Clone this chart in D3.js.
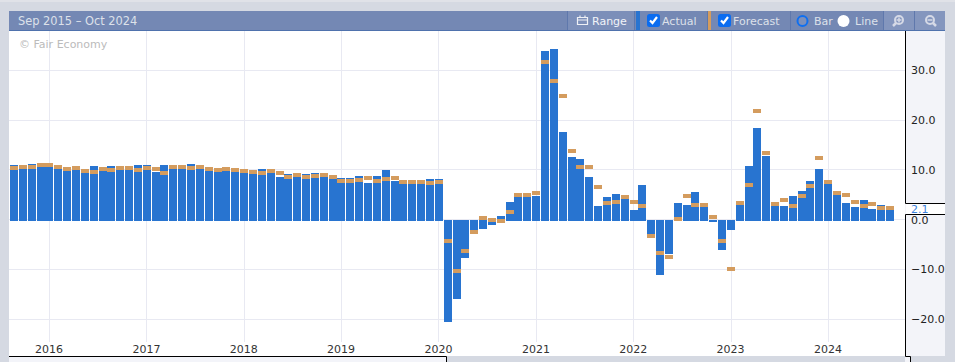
<!DOCTYPE html>
<html><head><meta charset="utf-8">
<style>
html,body{margin:0;padding:0;background:#d5d9e2;overflow:hidden}
svg{display:block}
text{font-family:"DejaVu Sans",sans-serif}
.axis path,.axis line{display:none}
</style>
<script src="https://cdn.jsdelivr.net/npm/d3@7"></script>
</head><body>
<script>
const yearLabels = [2016,2017,2018,2019,2020,2021,2022,2023,2024];
const yTicks = [30,20,10,0,-10,-20];
const actual = [11.0,10.6,11.2,11.0,11.0,10.6,10.2,10.4,9.8,10.8,10.2,10.8,10.4,10.4,11.0,11.0,9.6,11.0,10.6,10.6,11.2,10.6,10.2,10.0,10.2,
 10.0,9.8,9.6,10.2,9.8,8.6,9.2,9.0,9.2,9.4,9.0,8.6,8.4,8.4,8.8,7.4,8.8,10.0,7.8,7.4,7.4,7.4,8.2,8.2,
 -20.6,-16.0,-7.6,-2.4,-1.9,-1.1,0.7,3.5,4.6,4.6,4.7,33.8,34.2,17.7,12.5,12.1,8.5,
 2.7,4.5,5.1,4.1,1.9,6.9,-3.0,-11.2,-6.8,3.3,2.9,5.5,2.5,-0.5,-6.0,-2.0,2.9,
 10.7,18.5,12.7,2.7,2.7,4.7,5.7,7.7,10.1,7.1,4.9,3.3,2.5,3.9,2.1,2.9,2.1];
const forecast = [10.4,10.6,10.6,11.0,11.0,10.6,10.2,10.4,9.8,9.6,10.2,10.0,10.4,10.4,10.0,10.4,10.2,9.4,10.6,10.6,10.4,10.6,10.2,10.0,10.2,
 10.0,9.8,9.6,9.4,9.8,9.4,8.6,9.0,8.6,8.8,9.0,8.6,7.8,7.8,8.0,8.4,7.8,8.2,8.4,7.6,7.6,7.6,7.4,7.6,
 -4.35,-10.4,-6.2,-2.5,0.3,-0.1,-0.3,1.5,4.9,4.9,5.3,31.6,27.8,24.8,13.7,10.5,10.5,
 6.5,3.3,3.5,4.5,3.5,2.7,-3.3,-6.6,-7.4,0.1,4.7,2.9,2.9,0.5,-4.2,-9.8,3.3,
 6.9,21.8,13.3,3.1,3.9,2.7,4.7,6.7,12.3,7.5,5.3,4.9,3.5,2.7,3.1,2.3,2.3];
const headerText = "Sep 2015 – Oct 2024";
const watermark = "© Fair Economy";
const latestLabel = "2.1";

const W=955,H=362;
const svg=d3.select("body").append("svg").attr("width",W).attr("height",H);
const rect=(x,y,w,h,f)=>svg.append("rect").attr("x",x).attr("y",y).attr("width",w).attr("height",h).attr("fill",f);

// page + panels
rect(0,0,W,H,"#d5d9e2");
rect(0,0,W,2,"#e0e2e8");
rect(9,30,896,326,"#ffffff");
rect(905,30,40,326,"#f3f4f9");
rect(9,356,437,6,"#f3f4f9");
rect(905,356,5,6,"#f3f4f9");

// scales
const x=d3.scaleLinear().domain([0,99]).range([10,886.15]);
const y=d3.scaleLinear().domain([30,-20]).range([70.3,319.3]);
const t=d3.scaleTime().domain([new Date(2016,0,1),new Date(2024,0,1)]).range([49.4,828.4]);
const yearDates=yearLabels.map(d=>new Date(d,0,1));

// grid
svg.append("g").selectAll("line").data(yTicks).join("line")
 .attr("x1",9).attr("x2",905).attr("y1",d=>Math.floor(y(d))+.5).attr("y2",d=>Math.floor(y(d))+.5)
 .attr("stroke","#e8e9f2");
svg.append("g").selectAll("line").data(yearDates).join("line")
 .attr("y1",30).attr("y2",342).attr("x1",d=>Math.floor(t(d))+.5).attr("x2",d=>Math.floor(t(d))+.5)
 .attr("stroke","#e8e9f2");

// watermark
svg.append("text").attr("x",19).attr("y",48).attr("font-size",11).attr("fill","#bbbbbb").text(watermark);

// bars
const barW=8;
svg.append("g").selectAll("rect").data(actual).join("rect")
 .attr("x",(d,i)=>Math.round(x(i))).attr("width",barW)
 .attr("y",d=>d>=0?Math.round(y(d)):220)
 .attr("height",d=>d>=0?221-Math.round(y(d)):Math.round(y(d))-220)
 .attr("fill","#2874d0");
svg.append("g").selectAll("rect").data(forecast).join("rect")
 .attr("x",(d,i)=>Math.round(x(i))).attr("width",barW)
 .attr("y",d=>Math.round(y(d)-2)).attr("height",4)
 .attr("fill","#d49c5e");

// x axis
const xAxis=d3.axisBottom(t).tickValues(yearDates).tickFormat(d3.timeFormat("%Y")).tickSize(0);
const xg=svg.append("g").attr("class","axis").attr("transform","translate(0,342)").call(xAxis);
xg.selectAll("text").attr("font-size",11).attr("fill","#333").attr("font-family",'"DejaVu Sans",sans-serif').attr("x",-1).attr("y",3).attr("dy","0.71em");

// y axis panel
svg.append("path").attr("fill","none").attr("stroke","#000")
 .attr("d","M905.5,30V203.5H945M945,214.5H905.5V356.5H910.5V362");
svg.append("path").attr("fill","none").attr("stroke","#000").attr("d","M9,356.5H446.5V362");
rect(906,204,39,10,"#ffffff");
const yAxis=d3.axisRight(y).tickValues(yTicks).tickFormat(d3.format(".1f")).tickSize(0).tickPadding(0);
const yg=svg.append("g").attr("class","axis").attr("transform","translate(911,0)").call(yAxis);
yg.selectAll("text").attr("font-size",11).attr("fill","#222").attr("font-family",'"DejaVu Sans",sans-serif').attr("x",0).attr("dy","0.3em");
svg.append("text").attr("x",911).attr("y",212.5).attr("font-size",11).attr("fill","#3d83dc").text(latestLabel);

// toolbar
rect(9,11,936,19,"#7488b4");
rect(9,30,936,1,"#4f72ad");
rect(567,11,68,19,"#7c8fb9");
rect(884,11,30,19,"#8496be");
rect(915,11,30,19,"#8496be");
[567,634,707,790,883,914].forEach(v=>rect(v,11,1,19,"#5f78ac"));
rect(636,11,4,19,"#2874d0");
rect(708,11,3,19,"#d49c5e");
const label=(s,xx,fs,c)=>svg.append("text").attr("x",xx).attr("y",25).attr("font-size",fs||11).attr("fill",c||"#dde1ea").text(s);
label(headerText,18,11.4);
label("Range",592,11,"#f2f4f8");
label("Actual",662);
label("Forecast",733);
label("Bar",814);
label("Line",855);
// calendar icon
svg.append("path").attr("fill","none").attr("stroke","#eef0f5").attr("stroke-width",1.2)
 .attr("d","M578,17.5H587.5V24.5H577.5V17.5ZM577.5,20H587.5M580,15.5V18M585,15.5V18");
// checkboxes
[647,718].forEach(cx=>{
 rect(cx,14,13,13,"#0a6cf0").attr("rx",2.5);
 svg.append("path").attr("fill","none").attr("stroke","#fff").attr("stroke-width",2.2)
  .attr("d",`M${cx+3},${20.5}L${cx+5.5},${23}L${cx+10},${17}`);
});
// radios
svg.append("circle").attr("cx",802.5).attr("cy",21).attr("r",5).attr("fill","#7d90ba").attr("stroke","#0f6ff0").attr("stroke-width",2);
svg.append("circle").attr("cx",843.5).attr("cy",21).attr("r",6).attr("fill","#fff");
// zoom icons
[[899,"M-2.5,0H2.5M0,-2.5V2.5"],[930,"M-2.5,0H2.5"]].forEach(([cx,d])=>{
 const g=svg.append("g").attr("transform",`translate(${cx},20)`);
 g.append("circle").attr("r",4).attr("fill","none").attr("stroke","#d5d9e6").attr("stroke-width",2);
 g.append("path").attr("d",d).attr("stroke","#d5d9e6").attr("stroke-width",1.5);
 g.append("path").attr("d",cx===899?"M-3,3L-6,6":"M3,3L6,6").attr("stroke","#d5d9e6").attr("stroke-width",2.5);
});
</script>
</body></html>
